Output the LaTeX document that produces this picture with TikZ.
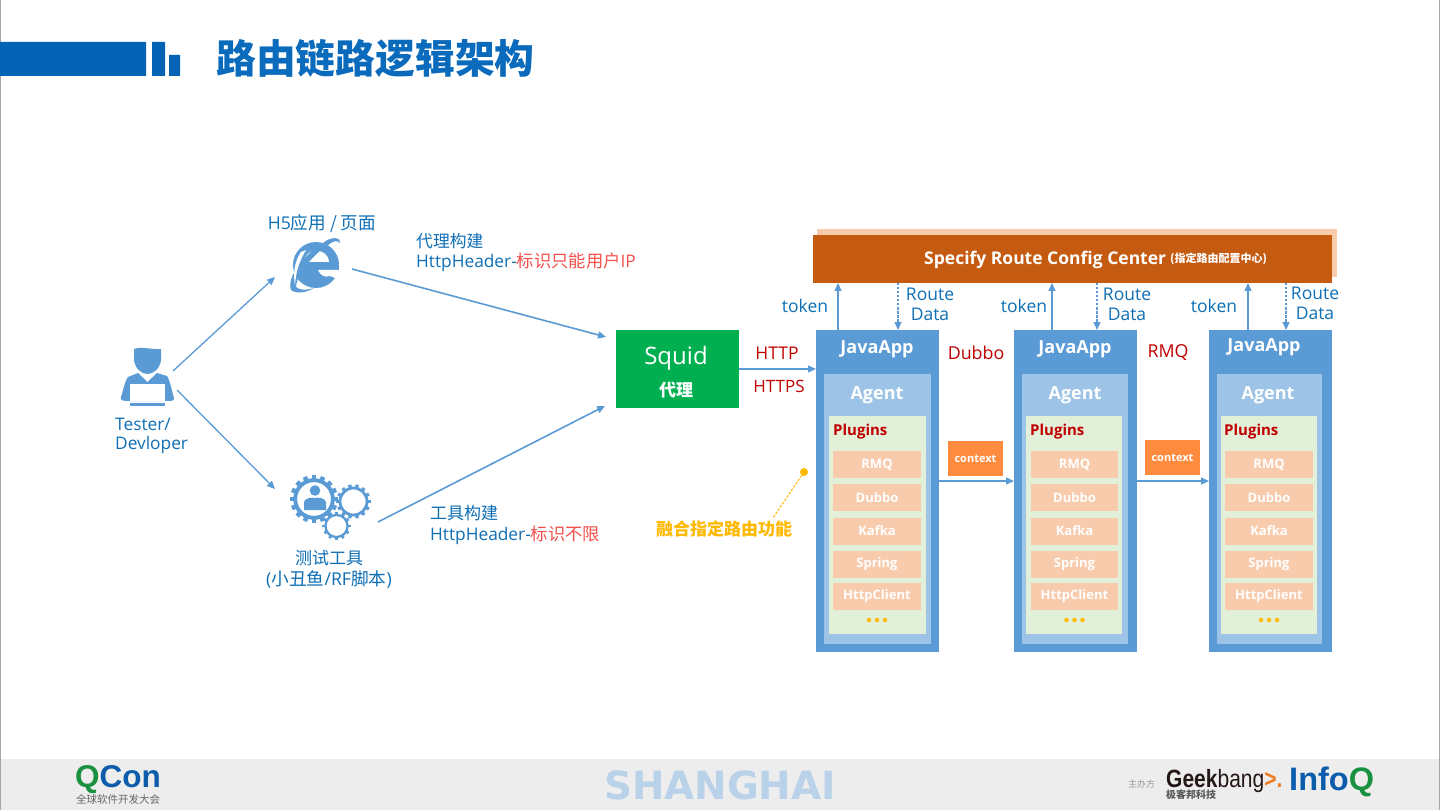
\documentclass[tikz,border=0pt]{standalone}
\usepackage{fontspec}
\usepackage{graphicx}
\setmainfont{Open Sans}
\newfontfamily\cjk{Noto Sans CJK SC}
\newfontfamily\libsans{Liberation Sans}
\newfontfamily\djv{DejaVu Sans}
\usetikzlibrary{arrows.meta,calc}
\definecolor{bluefill}{HTML}{5B9BD5}
\definecolor{agentfill}{HTML}{9DC3E6}
\definecolor{plugfill}{HTML}{E2F0D9}
\definecolor{itemfill}{HTML}{F8CBAD}
\definecolor{barfill}{HTML}{C55A11}
\definecolor{ctxfill}{HTML}{FF8B3E}
\definecolor{squidfill}{HTML}{00B050}
\definecolor{txtblue}{HTML}{0F6FB5}
\definecolor{darkred}{HTML}{C00000}
\definecolor{softred}{HTML}{F4504A}
\definecolor{gold}{HTML}{FFB900}
\definecolor{titleblue}{HTML}{0A6ABB}
\definecolor{barblue}{HTML}{0563B5}
\definecolor{footfill}{HTML}{EDEDED}
\definecolor{arrowblue}{HTML}{5B9BD5}
\newcommand{\fs}[1]{\fontsize{#1}{#1}\selectfont}
\newcommand{\downtxt}[1]{\raisebox{-1.3pt}{#1}}
\newcommand{\lowtxt}[1]{\raisebox{-4pt}{#1}}
\tikzset{
  box/.style={draw=none,inner sep=0,outer sep=0,anchor=north west},
  conn/.style={draw=arrowblue,line width=1.3pt,-{Triangle[length=8pt,width=7pt]}},
  connd/.style={conn,dash pattern=on 2.5pt off 1.5pt},
  lbl/.style={text=txtblue,inner sep=0,yshift=-1.5pt,font=\fs{17.5}},
  lbll/.style={lbl,anchor=west},
  prot/.style={text=darkred,inner sep=0,yshift=-1.5pt,font=\fs{17.5}},
  itembox/.style={box,fill=itemfill,text=white,font=\fs{13}\bfseries,align=center,anchor=center},
  head/.style={text=white,inner sep=0,yshift=-1.8pt,font=\fs{18}\bfseries},
  ctx/.style={box,fill=ctxfill,text=white,font=\fs{11}\bfseries,align=center,anchor=center},
  icon/.style={inner sep=0,outer sep=0,draw=none},
}
\newcommand{\appcolumn}[8]{%
  \node[box,fill=bluefill,minimum width=123pt,minimum height=322pt] (app#1) at (#2,330) {};
  \node[box,fill=agentfill,minimum width=#4pt,minimum height=270pt] (agent#1) at (#3,374) {};
  \node[box,fill=plugfill,minimum width=#6pt,minimum height=218pt] (plug#1) at (#5,416) {};
  \node[itembox,minimum width=#8pt,minimum height=27pt] (rmq#1) at ($(#7,464.5)+(#8/2,0)$) {\downtxt{RMQ}};
  \node[itembox,minimum width=#8pt,minimum height=27pt] (dub#1) at ($(#7,497.5)+(#8/2,0)$) {\downtxt{Dubbo}};
  \node[itembox,minimum width=#8pt,minimum height=27pt] (kaf#1) at ($(#7,531)+(#8/2,0)$) {\lowtxt{Kafka}};
  \node[itembox,minimum width=#8pt,minimum height=27pt] (spr#1) at ($(#7,564.5)+(#8/2,0)$) {\lowtxt{Spring}};
  \node[itembox,minimum width=#8pt,minimum height=27pt] (hc#1) at ($(#7,596)+(#8/2,0)$) {\lowtxt{HttpClient}};
  \fill[gold] ($(#7,620)+(#8/2-8,0)$) circle (2.3pt) ($(#7,620)+(#8/2,0)$) circle (2.3pt) ($(#7,620)+(#8/2+8,0)$) circle (2.3pt);
}
\newcommand{\gearicon}[4]{%
  \draw[bluefill,line width=#3*0.17pt,fill=white] (#1,#2) circle (#3*0.82);
  \foreach \a in {1,...,#4}{
    \draw[bluefill,line width=#3*0.2pt] ($(#1,#2)+({\a*360/#4}:#3*0.85)$) -- ($(#1,#2)+({\a*360/#4}:#3*1.04)$);
  }%
}
\begin{document}
\begin{tikzpicture}[x=1pt,y=-1pt]
\useasboundingbox (0,0) rectangle (1440,810);
\fill[white] (0,0) rectangle (1440,810);
\fill[footfill] (0,759) rectangle (1440,810);
\fill[gray!70] (0,0) rectangle (1.2,810);
\fill[gray!70] (1438.8,0) rectangle (1440,810);
\fill[barblue] (0,42) rectangle (146,76) (152,42) rectangle (165,76) (169,55) rectangle (180,76);
\node[anchor=west,inner sep=0,text=titleblue,font=\cjk\fs{39.8}\bfseries] (title) at (216,58) {路由链路逻辑架构};

\fill[itemfill] (817,229) rectangle (1337,277);
\node[box,fill=barfill,minimum width=519pt,minimum height=48pt] (bar) at (813,235) {};
\node[anchor=west,inner sep=0,text=white,font=\fs{17.5}\bfseries] (bartxt) at (924,259.5) {Specify Route Config Center};
\node[anchor=west,inner sep=0,text=white,font=\cjk\fs{11}\bfseries] (barcn) at (1170,259) {(指定路由配置中心)};

\appcolumn{1}{816}{824}{107}{829}{97}{833}{88}
\appcolumn{2}{1014}{1022}{106}{1026}{96}{1031}{87}
\appcolumn{3}{1209}{1217}{105}{1221}{96}{1225}{88}
\node[head] (ja1) at (877,347) {JavaApp};
\node[head] (ja2) at (1075,347) {JavaApp};
\node[head] (ja3) at (1264,345) {JavaApp};
\node[head] (ag1) at (877,393) {Agent};
\node[head] (ag2) at (1075,393) {Agent};
\node[head] (ag3) at (1268,393) {Agent};
\node[inner sep=0,anchor=west,yshift=-2pt,text=darkred,font=\fs{15}\bfseries] (pl1) at (833,430) {Plugins};
\node[inner sep=0,anchor=west,yshift=-2pt,text=darkred,font=\fs{15}\bfseries] (pl2) at (1030,430) {Plugins};
\node[inner sep=0,anchor=west,yshift=-2pt,text=darkred,font=\fs{15}\bfseries] (pl3) at (1224,430) {Plugins};

\node[box,fill=squidfill,minimum width=123pt,minimum height=78pt] (squid) at (616,330) {};
\node[text=white,inner sep=0,font=\fs{24}] (squidt) at (676,358) {Squid};
\node[text=white,inner sep=0,font=\cjk\fs{17}\bfseries] (squidc) at (676,390) {代理};

\node[ctx,minimum width=55pt,minimum height=35pt] (ctx1) at (975.5,458.5) {\downtxt{context}};
\node[ctx,minimum width=55pt,minimum height=35pt] (ctx2) at (1172.5,457.5) {\downtxt{context}};

\node[prot] (http) at (777,352) {HTTP};
\node[prot,font=\fs{17}] (https) at (779,385) {HTTPS};
\node[prot,font=\fs{17.8}] (dubbo) at (976,351) {Dubbo};
\node[prot,font=\fs{17.8}] (rmq) at (1168,351) {RMQ};

\node[lbl] (tk1) at (805,304.5) {token};
\node[lbl] (tk2) at (1024,304.5) {token};
\node[lbl] (tk3) at (1214,304.5) {token};
\node[lbl,align=center] (rd1) at (930,302.5) {Route\\[2.5pt]Data};
\node[lbl,align=center] (rd2) at (1127,302.5) {Route\\[2.5pt]Data};
\node[lbl,align=center] (rd3) at (1315,301.5) {Route\\[2.5pt]Data};

\node[icon,minimum width=54pt,minimum height=58pt] (tester) at (147,376) {};
\fill[bluefill] (134,349) .. controls (142,346) and (153,350) .. (161,349) -- (161,360) .. controls (160,369) and (153,374) .. (147.5,374) .. controls (142,374) and (135,369) .. (134,360) -- cycle;
\fill[bluefill] (138,373) -- (147.5,382) -- (157,373) -- (167,376) .. controls (170,380) and (172,392) .. (174,398) .. controls (174,401) and (172,401) .. (166,401) -- (129,401) .. controls (122,401) and (120,400) .. (121,397) .. controls (123,391) and (125,381) .. (128,377) -- cycle;
\fill[white] (130,384) rectangle (165,401);
\fill[bluefill] (130,403) rectangle (165,405.5);
\node[lbll,font=\fs{17.3}] (t1) at (115,423) {Tester/};
\node[lbll,font=\fs{17.3}] (t2) at (115,444) {Devloper};

\node[icon,minimum width=46pt,minimum height=46pt] (ie) at (316,266) {};
\fill[bluefill] (316,265) circle (23);
\fill[white] (304,262) .. controls (305,247) and (328,247) .. (329,262) -- cycle;
\fill[bluefill] (300,262.5) rectangle (339,270);
\fill[white] (318,270) -- (342,270) -- (342,281) -- (330,276) .. controls (325,278) and (320,275) .. (318,270) -- cycle;
\fill[bluefill] (291,290) .. controls (285,274) and (315,240) .. (340,239) .. controls (330,240) and (297,267) .. (296,287) .. controls (300,291) and (308,290) .. (314,288) .. controls (306,293) and (296,294) .. (291,290) -- cycle;
\fill[white] (301,252) .. controls (294,262) and (293,275) .. (295,285) .. controls (296,270) and (300,260) .. (306,250) -- cycle;
\fill[bluefill] (323,243) .. controls (330,237) and (340,236) .. (340,243) .. controls (338,240) and (331,241) .. (328,245) -- cycle;
\node[lbl,font=\fs{17.6}] (h5) at (322,222) {H5{\cjk 应用 / 页面}};

\node[icon,minimum width=80pt,minimum height=66pt] (gears) at (331,507) {};
\gearicon{353.5}{501.5}{16.5}{14}
\gearicon{336.5}{526}{13.5}{12}
\gearicon{314}{499}{23}{16}
\fill[bluefill] (315,490.5) circle (5.3);
\fill[bluefill] (304,510) -- (304,502) .. controls (305,498) and (312,497) .. (315,498) .. controls (318,497) and (325,498) .. (326,502) -- (326,510) -- cycle;
\node[lbl,yshift=1.5pt,font=\cjk\fs{17}] (g1) at (329,558) {测试工具};
\node[lbl,font=\fs{17.7}] (g2) at (329,578) {({\cjk 小丑鱼}/RF{\cjk 脚本})};

\node[lbll,yshift=1.5pt,font=\cjk\fs{16.8}] (p1) at (416,241) {代理构建};
\node[lbll,font=\fs{17.3}] (p2) at (416,260.5) {HttpHeader-{\cjk\color{softred}标识只能用户}{\color{softred}IP}};
\node[lbll,yshift=1.5pt,font=\cjk\fs{17}] (q1) at (430,513) {工具构建};
\node[lbll,font=\fs{17.3}] (q2) at (430,533.5) {HttpHeader-{\cjk\color{softred}标识不限}};

\coordinate (tout1) at (173,371); \coordinate (iein) at (275,277);
\coordinate (tout2) at (177,390); \coordinate (gin) at (275,489);
\coordinate (ieout) at (352,269);
\coordinate (gout) at (378,522);
\draw[conn] (tout1) -- (iein);
\draw[conn] (tout2) -- (gin);
\draw[conn,line width=1.6pt] (ieout) -- ([shift={(-10,7)}]squid.north west);
\draw[conn,line width=1.6pt] (gout) -- ([shift={(-11,-2)}]squid.south west);
\draw[conn] (squid.east) -- (squid.east -| app1.west);
\coordinate (c1) at ($(ctx1.south)+(0,5)$);
\coordinate (c2) at ($(ctx2.south)+(0,6)$);
\draw[conn] (app1.east |- c1) -- (c1 -| app2.west);
\draw[conn] (app2.east |- c2) -- (c2 -| app3.west);
\draw[conn] ([xshift=-39.5pt]app1.north) -- ([xshift=-39.5pt]app1.north |- bar.south);
\draw[conn] ([xshift=-23.5pt]app2.north) -- ([xshift=-23.5pt]app2.north |- bar.south);
\draw[conn] ([xshift=-22.5pt]app3.north) -- ([xshift=-22.5pt]app3.north |- bar.south);
\draw[connd] ([xshift=20.5pt]app1.north |- bar.south) -- ([xshift=20.5pt]app1.north);
\draw[connd] ([xshift=21.5pt]app2.north |- bar.south) -- ([xshift=21.5pt]app2.north);
\draw[connd] ([xshift=15.5pt]app3.north |- bar.south) -- ([xshift=15.5pt]app3.north);

\node[circle,fill=gold,inner sep=0,minimum size=8pt] (dot) at (804,472) {};
\node[inner sep=0,text=gold,font=\cjk\fs{17}\bfseries] (note) at (724,529) {融合指定路由功能};
\draw[gold,line width=1pt,dash pattern=on 2.5pt off 1.5pt] (dot) -- ($(note.north east)+(-19,-3)$);

\node[inner sep=0,text=agentfill!65!footfill,font=\djv\fs{38.8}\bfseries] (sh) at (720,785) {SHANGHAI};
\node[anchor=west,inner sep=0,font=\libsans\fs{31.5}\bfseries] (qcon) at (75,780) {\textcolor[HTML]{1A9140}{Q}\textcolor[HTML]{0D5CAB}{Con}};
\node[anchor=west,inner sep=0,text=black!60,font=\cjk\fs{10.5}] (qc) at (76,799) {全球软件开发大会};
\node[anchor=west,inner sep=0,text=black!40,font=\cjk\fs{9}] (zb) at (1128,784) {主办方};
\node[anchor=west,inner sep=0,font=\libsans\fs{25}] (gk) at (1166,781) {\scalebox{0.84}[1]{\textcolor[HTML]{231815}{\bfseries Geek}\textcolor[HTML]{231815}{bang}\textcolor[HTML]{EE7B22}{\bfseries >.}}};
\node[anchor=west,inner sep=0,text=black!65,font=\cjk\fs{10}\bfseries] (gkc) at (1166,795) {极客邦科技};
\node[anchor=west,inner sep=0,font=\libsans\fs{32.5}\bfseries] (iq) at (1289,782) {\textcolor[HTML]{0D5CAB}{Info}\textcolor[HTML]{1A9140}{Q}};
\end{tikzpicture}
\end{document}
